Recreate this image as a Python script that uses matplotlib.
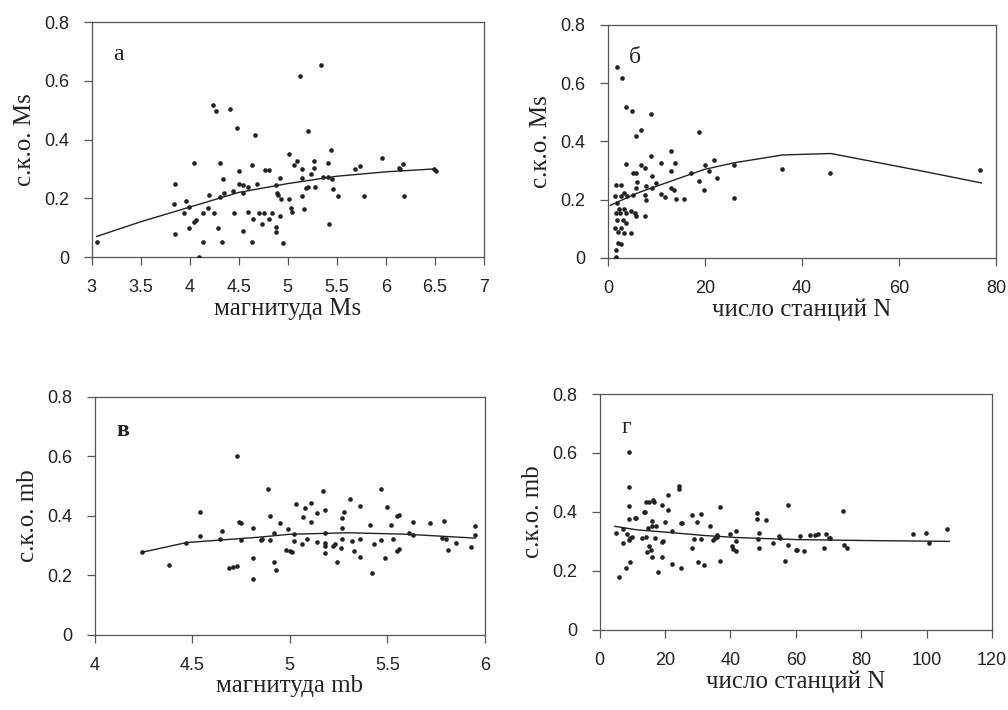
import matplotlib
matplotlib.use('Agg')
import matplotlib.pyplot as plt
from matplotlib.ticker import FuncFormatter

# panel а: sko Ms vs magnitude Ms
a_points = [(3.05, 0.05), (3.85, 0.25), (3.84, 0.18), (3.85, 0.08), (3.96, 0.19), (3.94, 0.15),
            (3.99, 0.17), (3.99, 0.10), (4.04, 0.12), (4.06, 0.126), (4.04, 0.32), (4.09, 0.0),
            (4.14, 0.05), (4.14, 0.15), (4.20, 0.21), (4.19, 0.166), (4.24, 0.517), (4.27, 0.496),
            (4.25, 0.15), (4.29, 0.10), (4.31, 0.319), (4.34, 0.264), (4.31, 0.205), (4.35, 0.217),
            (4.33, 0.05), (4.41, 0.503), (4.44, 0.224), (4.45, 0.15), (4.48, 0.44), (4.50, 0.294),
            (4.50, 0.247), (4.54, 0.245), (4.54, 0.219), (4.54, 0.087), (4.59, 0.24), (4.59, 0.153),
            (4.64, 0.312), (4.67, 0.417), (4.69, 0.249), (4.64, 0.05), (4.65, 0.128), (4.71, 0.15),
            (4.74, 0.113), (4.76, 0.15), (4.77, 0.296), (4.81, 0.296), (4.81, 0.13), (4.84, 0.15),
            (4.88, 0.244), (4.89, 0.217), (4.90, 0.21), (4.92, 0.27), (4.92, 0.14), (4.88, 0.103),
            (4.88, 0.084), (4.93, 0.196), (4.95, 0.049), (5.01, 0.197), (5.01, 0.352), (5.03, 0.166),
            (5.04, 0.153), (5.06, 0.313), (5.09, 0.327), (5.12, 0.617), (5.15, 0.30), (5.15, 0.268),
            (5.14, 0.208), (5.17, 0.162), (5.19, 0.234), (5.21, 0.43), (5.21, 0.24), (5.24, 0.283),
            (5.27, 0.304), (5.27, 0.326), (5.28, 0.24), (5.34, 0.654), (5.36, 0.271), (5.41, 0.319),
            (5.41, 0.274), (5.42, 0.112), (5.44, 0.365), (5.45, 0.267), (5.46, 0.233), (5.51, 0.208),
            (5.69, 0.298), (5.74, 0.311), (5.78, 0.207), (5.96, 0.337), (6.13, 0.304), (6.18, 0.318),
            (6.14, 0.30), (6.19, 0.209), (6.49, 0.298), (6.51, 0.292)]
a_line = [(3.05, 0.07), (3.5, 0.12), (3.9, 0.16), (4.5, 0.22), (5.0, 0.25), (5.5, 0.275),
          (6.0, 0.29), (6.5, 0.30)]

# panel б: sko Ms vs number of stations
b_points = [(1.9, 0.654), (2.9, 0.617), (3.8, 0.518), (4.9, 0.503), (5.8, 0.417), (6.8, 0.44),
            (8.9, 0.495), (18.8, 0.431), (1.7, 0.251), (2.7, 0.251), (3.8, 0.322), (5.1, 0.291),
            (5.8, 0.291), (6.8, 0.32), (7.7, 0.309), (8.9, 0.351), (9.2, 0.28), (10.9, 0.326),
            (13.0, 0.366), (13.9, 0.326), (13.0, 0.297), (17.1, 0.291), (18.8, 0.263), (19.8, 0.234),
            (20.0, 0.317), (20.9, 0.299), (21.9, 0.335), (22.6, 0.274), (26.0, 0.318), (26.0, 0.206),
            (35.9, 0.305), (45.8, 0.29), (76.8, 0.30), (1.4, 0.211), (2.7, 0.211), (3.3, 0.223),
            (3.9, 0.211), (5.1, 0.217), (5.8, 0.24), (6.0, 0.259), (7.9, 0.246), (7.7, 0.214),
            (7.9, 0.2), (9.2, 0.24), (9.9, 0.257), (10.9, 0.219), (11.8, 0.208), (13.0, 0.238),
            (13.7, 0.232), (14.0, 0.202), (15.7, 0.202), (1.9, 0.189), (2.4, 0.168), (3.3, 0.168),
            (1.7, 0.154), (2.6, 0.154), (3.8, 0.154), (4.8, 0.162), (5.5, 0.154), (5.8, 0.143),
            (7.7, 0.143), (1.9, 0.131), (3.1, 0.131), (3.8, 0.12), (1.5, 0.103), (2.7, 0.103),
            (2.1, 0.089), (3.3, 0.086), (4.8, 0.086), (2.1, 0.051), (2.7, 0.048), (1.6, 0.003),
            (1.6, 0.026)]
b_line = [(0.5, 0.18), (6.2, 0.223), (13, 0.263), (19.8, 0.303), (26, 0.326), (36, 0.353),
          (46, 0.358), (60, 0.313), (65, 0.297), (77, 0.257)]

# panel в: sko mb vs magnitude mb
c_points = [(4.24, 0.277), (4.38, 0.235), (4.47, 0.31), (4.54, 0.414), (4.54, 0.333), (4.64, 0.322),
            (4.65, 0.349), (4.69, 0.226), (4.71, 0.229), (4.73, 0.232), (4.73, 0.602), (4.75, 0.375),
            (4.74, 0.38), (4.75, 0.319), (4.81, 0.358), (4.81, 0.258), (4.81, 0.187), (4.85, 0.319),
            (4.86, 0.322), (4.89, 0.49), (4.90, 0.40), (4.90, 0.317), (4.92, 0.343), (4.92, 0.243),
            (4.93, 0.218), (4.95, 0.375), (4.98, 0.285), (4.99, 0.357), (5.00, 0.28), (5.01, 0.277),
            (5.02, 0.339), (5.02, 0.315), (5.03, 0.439), (5.06, 0.304), (5.07, 0.395), (5.08, 0.426),
            (5.09, 0.321), (5.11, 0.38), (5.11, 0.442), (5.14, 0.311), (5.14, 0.408), (5.17, 0.483),
            (5.18, 0.42), (5.18, 0.343), (5.18, 0.308), (5.18, 0.297), (5.18, 0.274), (5.22, 0.297),
            (5.23, 0.305), (5.24, 0.243), (5.26, 0.291), (5.27, 0.358), (5.27, 0.392), (5.27, 0.321),
            (5.28, 0.412), (5.31, 0.458), (5.36, 0.433), (5.32, 0.315), (5.33, 0.281), (5.36, 0.261),
            (5.36, 0.321), (5.41, 0.368), (5.43, 0.304), (5.42, 0.207), (5.47, 0.317), (5.47, 0.489),
            (5.49, 0.258), (5.50, 0.429), (5.52, 0.368), (5.53, 0.321), (5.55, 0.399), (5.56, 0.402),
            (5.56, 0.288), (5.55, 0.281), (5.61, 0.341), (5.63, 0.335), (5.63, 0.378), (5.72, 0.375),
            (5.79, 0.382), (5.78, 0.324), (5.80, 0.321), (5.81, 0.285), (5.85, 0.308), (5.93, 0.294),
            (5.95, 0.366), (5.95, 0.335)]
c_line = [(4.24, 0.277), (4.47, 0.31), (4.84, 0.328), (5.0, 0.338), (5.3, 0.343), (5.6, 0.338),
          (5.95, 0.325)]

# panel г: sko mb vs number of stations
d_points = [(5.1, 0.328), (5.9, 0.178), (7.2, 0.343), (7.0, 0.296), (8.0, 0.209), (8.3, 0.325),
            (9.0, 0.602), (9.0, 0.484), (9.0, 0.421), (9.0, 0.376), (9.0, 0.303), (9.3, 0.31),
            (9.2, 0.23), (10.0, 0.314), (10.7, 0.381), (11.1, 0.381), (12.8, 0.313), (13.4, 0.398),
            (13.8, 0.40), (14.1, 0.432), (14.3, 0.314), (14.4, 0.264), (14.9, 0.345), (15.1, 0.283),
            (15.1, 0.433), (15.6, 0.271), (16.1, 0.37), (16.1, 0.247), (16.1, 0.351), (16.3, 0.439),
            (16.6, 0.432), (17.1, 0.353), (16.8, 0.313), (17.9, 0.196), (19.0, 0.298), (19.0, 0.247),
            (19.2, 0.423), (19.5, 0.302), (20.0, 0.365), (21.0, 0.405), (21.0, 0.458), (22.0, 0.224),
            (22.0, 0.334), (24.1, 0.489), (24.1, 0.477), (24.8, 0.362), (25.3, 0.364), (24.8, 0.209),
            (28.1, 0.39), (28.1, 0.279), (28.9, 0.309), (29.9, 0.365), (30.1, 0.23), (30.9, 0.394),
            (30.9, 0.309), (31.9, 0.221), (33.7, 0.351), (34.8, 0.305), (35.2, 0.311), (35.8, 0.32),
            (36.0, 0.314), (36.8, 0.415), (36.8, 0.234), (39.8, 0.325), (40.6, 0.283), (40.9, 0.274),
            (41.6, 0.268), (41.8, 0.302), (41.8, 0.336), (48.0, 0.396), (48.0, 0.376), (48.3, 0.308),
            (48.8, 0.33), (48.8, 0.279), (50.8, 0.371), (52.9, 0.294), (54.9, 0.319), (55.1, 0.313),
            (56.6, 0.234), (57.7, 0.288), (57.7, 0.422), (60.0, 0.271), (60.5, 0.271), (61.2, 0.318),
            (62.4, 0.266), (64.3, 0.321), (65.9, 0.321), (66.9, 0.324), (68.5, 0.279), (69.3, 0.324),
            (70.1, 0.31), (70.6, 0.31), (74.5, 0.404), (74.8, 0.289), (75.8, 0.279), (95.9, 0.325),
            (99.9, 0.328), (100.9, 0.293), (106.2, 0.342)]
d_line = [(4.6, 0.351), (11.5, 0.339), (21.7, 0.33), (31.9, 0.32), (42, 0.313), (52, 0.309),
          (60.5, 0.306), (80, 0.303), (107, 0.30)]

panels = [
    # points, line, rect, xlim, xticks, xlabel, ylabel, letter, bold
    (a_points, a_line, [0.091, 0.638, 0.389, 0.331], (3, 7), [3, 3.5, 4, 4.5, 5, 5.5, 6, 6.5, 7],
     'магнитуда Ms', 'с.к.о. Ms', 'а', False),
    (b_points, b_line, [0.603, 0.637, 0.385, 0.328], (0, 80), [0, 20, 40, 60, 80],
     'число станций N', 'с.к.о. Ms', 'б', False),
    (c_points, c_line, [0.094, 0.106, 0.387, 0.335], (4, 6), [4, 4.5, 5, 5.5, 6],
     'магнитуда mb', 'с.к.о. mb', 'в', True),
    (d_points, d_line, [0.595, 0.113, 0.389, 0.332], (0, 120), [0, 20, 40, 60, 80, 100, 120],
     'число станций N', 'с.к.о. mb', 'г', False),
]

tick_font = ['Liberation Sans Narrow', 'Liberation Sans', 'DejaVu Sans']
serif_font = ['Liberation Serif', 'DejaVu Serif']
ink = '#222222'

fig = plt.figure(figsize=(10.08, 7.10), dpi=100)

for pts, line, rect, xlim, xticks, xlab, ylab, letter, bold in panels:
    ax = fig.add_axes(rect)
    px, py = zip(*pts)
    lx, ly = zip(*line)
    ax.scatter(px, py, s=11, color=ink, linewidths=0, zorder=3)
    ax.plot(lx, ly, color=ink, lw=1.0, zorder=2)
    ax.set_xlim(*xlim)
    ax.set_ylim(0, 0.8)
    ax.set_xticks(xticks)
    ax.set_yticks([0, 0.2, 0.4, 0.6, 0.8])
    ax.xaxis.set_major_formatter(FuncFormatter(lambda v, p: '%g' % v))
    ax.yaxis.set_major_formatter(FuncFormatter(lambda v, p: '0' if v == 0 else '%.1f' % v))
    ax.tick_params(direction='out', length=6, width=0.9, color='#555555', labelsize=13,
                   pad=10, labelcolor='#222222')
    for lab in ax.get_xticklabels() + ax.get_yticklabels():
        lab.set_family(tick_font)
    for sp in ax.spines.values():
        sp.set_color('#555555')
        sp.set_linewidth(0.9)
    ax.set_xlabel(xlab, family=serif_font, fontsize=18, color='#222222', labelpad=1)
    ax.set_ylabel(ylab, family=serif_font, fontsize=18, color='#222222', labelpad=6)
    ax.text(0.055, 0.86, letter, transform=ax.transAxes, family=serif_font, fontsize=17,
            fontweight='bold' if bold else 'normal', color='#222222', va='center')

fig.savefig('out.png', dpi=100)
